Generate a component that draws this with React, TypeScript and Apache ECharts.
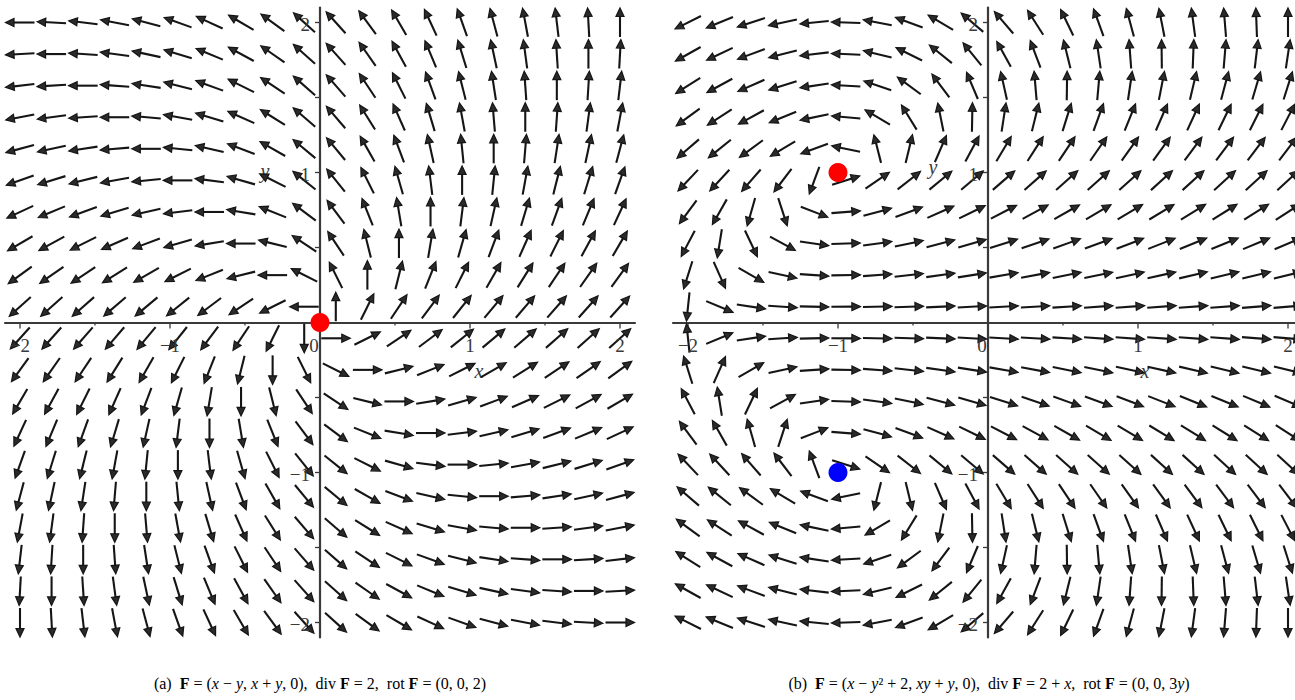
import React, { useEffect, useRef } from "react";
import * as echarts from "echarts";

// Sample points of the 20 x 20 field grid on [-2, 2]
const gridValues = [
  -2, -1.7895, -1.5789, -1.3684, -1.1579, -0.9474, -0.7368, -0.5263, -0.3158, -0.1053,
  0.1053, 0.3158, 0.5263, 0.7368, 0.9474, 1.1579, 1.3684, 1.5789, 1.7895, 2,
];

// The two vector fields as given in the captions
const fieldA = (x: number, y: number) => [x - y, x + y];
const fieldB = (x: number, y: number) => [x - y * y + 2, x * y + y];

// Stationary points
const pointsA = [[0, 0]];
const pointsBRed = [[-1, 1]];
const pointsBBlue = [[-1, -1]];

// Ticks and labels
const majorTicks = [-2, -1, 1, 2];
const minorTicks = [-1.5, -0.5, 0.5, 1.5];
const xLabelValues = [-2, -1, 0, 1, 2];
const xLabelTexts = ["\u22122", "\u22121", "0", "1", "2"];
const yLabelValues = [-2, -1, 1, 2];
const yLabelTexts = ["\u22122", "\u22121", "1", "2"];

const captionA =
  "{n|(a)  }{b|F}{n| = (}{i|x}{n| \u2212 }{i|y}{n|, }{i|x}{n| + }{i|y}{n|, 0),  div }{b|F}{n| = 2,  rot }{b|F}{n| = (0, 0, 2)}";
const captionB =
  "{n|(b)  }{b|F}{n| = (}{i|x}{n| \u2212 }{i|y}{n|\u00b2 + 2, }{i|xy}{n| + }{i|y}{n|, 0),  div }{b|F}{n| = 2 + }{i|x}{n|,  rot }{b|F}{n| = (0, 0, 3}{i|y}{n|)}";

const SERIF = "'Liberation Serif', 'DejaVu Serif', serif";
const ARROW = "#151515";
const AXIS = "#3a3a3a";

function buildField(f: (x: number, y: number) => number[]) {
  const out: number[][] = [];
  for (const x of gridValues) {
    for (const y of gridValues) {
      const [u, v] = f(x, y);
      out.push([x, y, u, v]);
    }
  }
  return out;
}

const arrowRender = (params: any, api: any) => {
  const x = api.value(0);
  const y = api.value(1);
  const u = api.value(2);
  const v = api.value(3);
  const mag = Math.hypot(u, v);
  if (mag === 0) return null;
  const c = api.coord([x, y]);
  const dx = u / mag;
  const dy = -v / mag;
  const L = 29;
  const hl = 8.5;
  const hw = 4;
  const tail = [c[0] - (dx * L) / 2, c[1] - (dy * L) / 2];
  const tip = [c[0] + (dx * L) / 2, c[1] + (dy * L) / 2];
  const base = [tip[0] - dx * hl, tip[1] - dy * hl];
  const nx = -dy;
  const ny = dx;
  return {
    type: "group",
    children: [
      {
        type: "line",
        shape: { x1: tail[0], y1: tail[1], x2: base[0] + dx * 2, y2: base[1] + dy * 2 },
        style: { stroke: ARROW, lineWidth: 2.1 },
      },
      {
        type: "polygon",
        shape: {
          points: [
            tip,
            [base[0] + nx * hw, base[1] + ny * hw],
            [base[0] - nx * hw, base[1] - ny * hw],
          ],
        },
        style: { fill: "#2a2a2a", stroke: ARROW, lineWidth: 1.2 },
      },
    ],
  };
};

function tickSeries(idx: number) {
  const data = [
    ...majorTicks.map((t) => [t, 1]),
    ...minorTicks.map((t) => [t, 0]),
  ];
  return {
    type: "custom",
    xAxisIndex: idx,
    yAxisIndex: idx,
    silent: true,
    z: 1,
    data,
    renderItem: (params: any, api: any) => {
      const t = api.value(0);
      const major = api.value(1) === 1;
      const cx = api.coord([t, 0]);
      const cy = api.coord([0, t]);
      const lx = major ? 6 : 3;
      const ly = 5;
      return {
        type: "group",
        children: [
          { type: "line", shape: { x1: cx[0], y1: cx[1], x2: cx[0], y2: cx[1] + lx }, style: { stroke: AXIS, lineWidth: 1.3 } },
          { type: "line", shape: { x1: cy[0], y1: cy[1], x2: cy[0] - ly, y2: cy[1] }, style: { stroke: AXIS, lineWidth: 1.3 } },
        ],
      };
    },
  };
}

function labelSeries(idx: number) {
  return [
    {
      type: "custom",
      xAxisIndex: idx,
      yAxisIndex: idx,
      silent: true,
      z: 3,
      data: xLabelValues.map((v) => [v]),
      renderItem: (params: any, api: any) => {
        const v = api.value(0);
        const c = api.coord([v, 0]);
        const shift = v === 0 ? -6 : 0;
        return {
          type: "text",
          x: c[0] + shift,
          y: c[1] + 23,
          style: {
            text: xLabelTexts[params.dataIndex],
            fontFamily: SERIF,
            fontSize: 19,
            fill: AXIS,
            align: "center",
            verticalAlign: "middle",
          },
        };
      },
    },
    {
      type: "custom",
      xAxisIndex: idx,
      yAxisIndex: idx,
      silent: true,
      z: 3,
      data: yLabelValues.map((v) => [v]),
      renderItem: (params: any, api: any) => {
        const v = api.value(0);
        const c = api.coord([0, v]);
        return {
          type: "text",
          x: c[0] - 10,
          y: c[1] + 2,
          style: {
            text: yLabelTexts[params.dataIndex],
            fontFamily: SERIF,
            fontSize: 19,
            fill: AXIS,
            align: "right",
            verticalAlign: "middle",
          },
        };
      },
    },
  ];
}

function axisPair(idx: number) {
  const common = {
    type: "value",
    min: -2.1,
    max: 2.1,
    gridIndex: idx,
    axisLine: { show: true, onZero: true, lineStyle: { color: AXIS, width: 2.2 } },
    axisTick: { show: false },
    axisLabel: { show: false },
    splitLine: { show: false },
  };
  return { x: { ...common }, y: { ...common } };
}

const richStyles = {
  n: { fontFamily: SERIF, fontSize: 16, fill: "#000" },
  b: { fontFamily: SERIF, fontSize: 16, fontWeight: "bold", fill: "#000" },
  i: { fontFamily: SERIF, fontSize: 16, fontStyle: "italic", fill: "#000" },
};

export default function App() {
  const ref = useRef<HTMLDivElement>(null);
  useEffect(() => {
    if (!ref.current) return;
    const chart = echarts.init(ref.current, null, { renderer: "svg" });
    const a0 = axisPair(0);
    const a1 = axisPair(1);
    const nameStyle = { fontFamily: SERIF, fontStyle: "italic", fontSize: 20, fill: AXIS, align: "center", verticalAlign: "middle" };
    const option: any = {
      animation: false,
      backgroundColor: "#fff",
      grid: [
        { left: 5, top: 7.5, width: 630, height: 630 },
        { left: 673, top: 7.5, width: 630, height: 630 },
      ],
      xAxis: [a0.x, a1.x],
      yAxis: [a0.y, a1.y],
      graphic: [
        { type: "text", x: 479, y: 371, style: { text: "x", ...nameStyle } },
        { type: "text", x: 265, y: 171, style: { text: "y", ...nameStyle } },
        { type: "text", x: 1145, y: 371, style: { text: "x", ...nameStyle } },
        { type: "text", x: 933, y: 167, style: { text: "y", ...nameStyle } },
        { type: "text", x: 320, y: 683, style: { text: captionA, rich: richStyles, align: "center", verticalAlign: "middle", fontFamily: SERIF, fontSize: 16 } },
        { type: "text", x: 989, y: 683, style: { text: captionB, rich: richStyles, align: "center", verticalAlign: "middle", fontFamily: SERIF, fontSize: 16 } },
      ],
      series: [
        tickSeries(0),
        tickSeries(1),
        ...labelSeries(0),
        ...labelSeries(1),
        { type: "custom", xAxisIndex: 0, yAxisIndex: 0, silent: true, z: 2, data: buildField(fieldA), renderItem: arrowRender },
        { type: "custom", xAxisIndex: 1, yAxisIndex: 1, silent: true, z: 2, data: buildField(fieldB), renderItem: arrowRender },
        { type: "scatter", xAxisIndex: 0, yAxisIndex: 0, z: 10, symbolSize: 19, itemStyle: { color: "#ff0000", opacity: 1 }, data: pointsA },
        { type: "scatter", xAxisIndex: 1, yAxisIndex: 1, z: 10, symbolSize: 19, itemStyle: { color: "#ff0000", opacity: 1 }, data: pointsBRed },
        { type: "scatter", xAxisIndex: 1, yAxisIndex: 1, z: 10, symbolSize: 19, itemStyle: { color: "#0000ff", opacity: 1 }, data: pointsBBlue },
      ],
    };
    chart.setOption(option);
    return () => chart.dispose();
  }, []);
  return (
    <div style={{ position: "fixed", left: 0, top: 0, width: 1295, height: 700, overflow: "hidden", background: "#fff" }}>
      <div ref={ref} style={{ width: 1310, height: 700 }} />
    </div>
  );
}
